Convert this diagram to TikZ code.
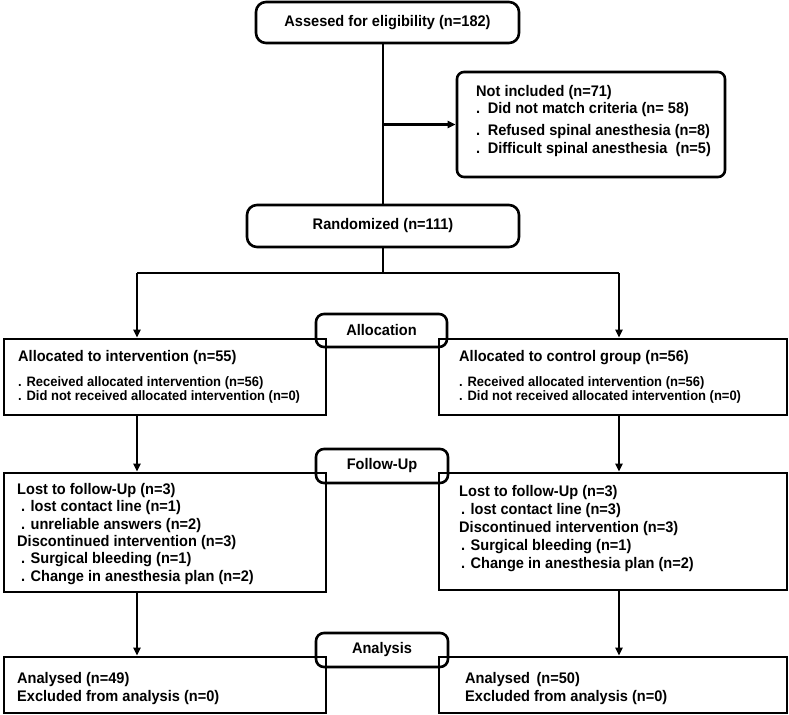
\documentclass[tikz,border=0pt]{standalone}
\usepackage{fontspec}
\setmainfont{Liberation Sans}[FakeStretch=0.95]
\usetikzlibrary{arrows.meta}
\begin{document}
\begin{tikzpicture}[x=1bp,y=-1bp,line width=2.4bp,
  frame/.style={draw,rectangle,inner sep=0pt,line width=2.6bp},
  term/.style={frame,rounded corners=10bp,font=\fontsize{15.4}{17.4}\selectfont\bfseries},
  lab/.style={frame,rounded corners=8bp,font=\fontsize{15.4}{17.4}\selectfont\bfseries},
  txt/.style={anchor=north west,align=left,inner sep=0pt,font=\fontsize{15.4}{17.4}\selectfont\bfseries},
  small/.style={anchor=north west,align=left,inner sep=0pt,font=\fontsize{13.7}{14}\selectfont\bfseries},
  arr/.style={-{Triangle[length=8bp,width=7bp]}}]
\useasboundingbox (0,0) rectangle (789,715);

% boxes
\node[term,minimum width=263bp,minimum height=41bp] (assess) at (387.5,22.5) {Assesed for eligibility (n=182)};
\node[frame,rounded corners=7bp,minimum width=268bp,minimum height=105bp] (notinc) at (591,124.5) {};
\node[term,minimum width=272bp,minimum height=42bp] (rand) at (383,226) {Randomized (n=111)};

\node[lab,minimum width=131bp,minimum height=33bp] (labA) at (381.5,330.5) {Allocation};
\node[lab,minimum width=132bp,minimum height=34bp] (labF) at (382,466) {Follow-Up};
\node[lab,minimum width=132bp,minimum height=34bp] (labN) at (382,650) {Analysis};

\node[frame,minimum width=322bp,minimum height=76bp] (alloc1) at (165,377) {};
\node[frame,minimum width=348bp,minimum height=76bp] (alloc2) at (613,377) {};
\node[frame,minimum width=322bp,minimum height=119bp] (fu1) at (165,532.5) {};
\node[frame,minimum width=348bp,minimum height=117bp] (fu2) at (613,531.5) {};
\node[frame,minimum width=322bp,minimum height=56bp] (an1) at (165,685) {};
\node[frame,minimum width=348bp,minimum height=56bp] (an2) at (613,685) {};

% texts
\node[txt] (notinct) at (475,83.8) {Not included (n=71)\\
.\hspace{7.5bp}Did not match criteria (n= 58)\\[5bp]
.\hspace{7.5bp}Refused spinal anesthesia (n=8)\\
.\hspace{7.5bp}Difficult spinal anesthesia \ (n=5)};

\node[txt] (alloc1t) at (17,348.8) {Allocated to intervention (n=55)};
\node[small] (alloc1b) at (17,375.5) {. Received allocated intervention (n=56)\\
. Did not received allocated intervention (n=0)};
\node[txt] (alloc2t) at (458,348.8) {Allocated to control group (n=56)};
\node[small] (alloc2b) at (458,375.5) {. Received allocated intervention (n=56)\\
. Did not received allocated intervention (n=0)};

\node[txt] (fu1t) at (16,482.3) {Lost to follow-Up (n=3)\\
\hspace*{4bp}. lost contact line (n=1)\\
\hspace*{4bp}. unreliable answers (n=2)\\
Discontinued intervention (n=3)\\
\hspace*{4bp}. Surgical bleeding (n=1)\\
\hspace*{4bp}. Change in anesthesia plan (n=2)};
\node[txt,font=\fontsize{15.4}{18.2}\selectfont\bfseries] (fu2t) at (458,483.8) {Lost to follow-Up (n=3)\\
\hspace*{2bp}. lost contact line (n=3)\\
Discontinued intervention (n=3)\\
\hspace*{2bp}. Surgical bleeding (n=1)\\
\hspace*{2bp}. Change in anesthesia plan (n=2)};

\node[txt,font=\fontsize{15.4}{18}\selectfont\bfseries] (an1t) at (16,670.8) {Analysed (n=49)\\
Excluded from analysis (n=0)};
\node[txt,font=\fontsize{15.4}{18}\selectfont\bfseries] (an2t) at (464,670.8) {Analysed \,(n=50)\\
Excluded from analysis (n=0)};

% connectors
\coordinate (split) at (383,273);
\coordinate (aL) at (137,273);
\coordinate (aR) at (619,273);
\draw (rand.north |- assess.south) -- (rand.north);
\draw[arr] (rand.north |- notinc.west) -- (notinc.west);
\draw (rand.south) -- (split);
\draw (aL) -- (aR);
\draw[arr] (aL) -- (aL |- alloc1.north);
\draw[arr] (aR) -- (aR |- alloc2.north);
\draw[arr] (aL |- alloc1.south) -- (aL |- fu1.north);
\draw[arr] (aR |- alloc2.south) -- (aR |- fu2.north);
\draw[arr] (aL |- fu1.south) -- (aL |- an1.north);
\draw[arr] (aR |- fu2.south) -- (aR |- an2.north);
\end{tikzpicture}
\end{document}
